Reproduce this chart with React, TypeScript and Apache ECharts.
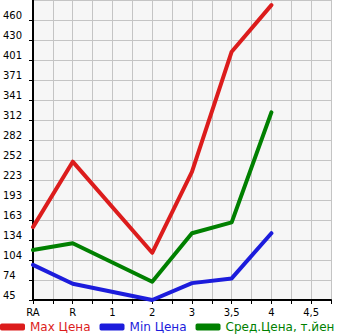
import React, { useEffect, useRef } from "react";
import * as echarts from "echarts";

const categories = ["RA", "", "R", "", "1", "", "2", "", "3", "", "3,5", "", "4", "", "4,5", ""];
const maxPrice = [153, null, 250, null, null, null, 115, null, 235, null, 413, null, 482, null, null, null];
const minPrice = [97, null, 69, null, null, null, 45, null, 70, null, 77, null, 144, null, null, null];
const avgPrice = [119, null, 129, null, null, null, 72, null, 144, null, 160, null, 323, null, null, null];
const yTickLabels = ["45", "74", "104", "134", "163", "193", "223", "252", "282", "312", "341", "371", "401", "430", "460"];
const Y_MIN = 45;
const Y_STEP = 29.64;

const RED = "#dc1c1c";
const BLUE = "#1c1cdc";
const GREEN = "#008000";

export default function App() {
  const ref = useRef<HTMLDivElement>(null);
  useEffect(() => {
    if (!ref.current) return;
    const chart = echarts.init(ref.current, undefined, { renderer: "svg" });
    const font = "DejaVu Sans";
    const mk = (name: string, data: (number | null)[], color: string) => ({
      name,
      type: "line",
      data,
      connectNulls: true,
      showSymbol: false,
      symbol: "none",
      lineStyle: { color, width: 4, cap: "round", join: "round" },
      itemStyle: { color },
    });
    chart.setOption({
      animation: false,
      backgroundColor: "#ffffff",
      grid: {
        left: 31,
        right: 14,
        top: 0,
        bottom: 35,
        show: true,
        backgroundColor: "#f6f6f6",
        borderWidth: 0,
      },
      legend: {
        left: 0,
        top: 321,
        itemWidth: 25,
        itemHeight: 7,
        itemGap: 9,
        icon: "roundRect",
        padding: 0,
        textStyle: { fontFamily: font, fontSize: 12 },
        data: [
          { name: "Max Цена", textStyle: { color: RED } },
          { name: "Min Цена", textStyle: { color: BLUE } },
          { name: "Сред.Цена, т.йен", textStyle: { color: GREEN } },
        ],
      },
      xAxis: {
        type: "category",
        data: categories,
        boundaryGap: false,
        axisLine: { show: true, lineStyle: { color: "#000", width: 2 } },
        axisTick: { show: true, interval: 0, length: 4, lineStyle: { color: "#000" } },
        axisLabel: { interval: 0, color: "#000", fontFamily: font, fontSize: 10, margin: 7 },
        splitLine: { show: true, interval: 0, lineStyle: { color: "#c4c4c4", width: 1 } },
      },
      yAxis: {
        type: "value",
        min: Y_MIN,
        max: Y_MIN + 15 * Y_STEP,
        interval: Y_STEP,
        axisLine: { show: true, lineStyle: { color: "#000", width: 2 } },
        axisTick: { show: true, length: 4, lineStyle: { color: "#000" } },
        axisLabel: {
          color: "#000",
          fontFamily: font,
          fontSize: 10,
          align: "left",
          verticalAlign: "bottom",
          margin: 30,
          showMaxLabel: false,
          formatter: (v: number) => {
            const i = Math.round((v - Y_MIN) / Y_STEP);
            return yTickLabels[i] ?? "";
          },
        },
        splitLine: { show: true, lineStyle: { color: "#c4c4c4", width: 1 } },
      },
      series: [
        mk("Max Цена", maxPrice, RED),
        mk("Min Цена", minPrice, BLUE),
        mk("Сред.Цена, т.йен", avgPrice, GREEN),
      ],
    });
    return () => chart.dispose();
  }, []);
  return (
    <div
      ref={ref}
      style={{ position: "fixed", left: 0, top: 0, width: 345, height: 335 }}
    />
  );
}
